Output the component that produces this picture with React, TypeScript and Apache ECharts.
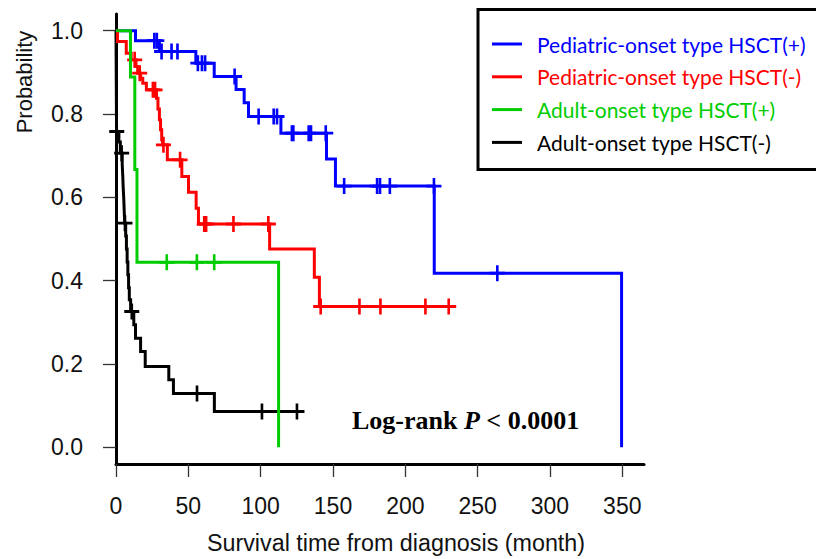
import React, { useEffect, useRef } from "react";
import * as echarts from "echarts";

// ---- Data ----
// Kaplan–Meier step points: [time in months, survival probability after that time]
const pedPlusCurve: [number, number][] = [
  [0, 1.0], [13.5, 0.976], [30, 0.95], [55.2, 0.922], [67.9, 0.89], [83, 0.859],
  [88.6, 0.827], [91.6, 0.794], [114, 0.754], [145.5, 0.692], [151.7, 0.627],
  [220, 0.418], [349.5, 0.0],
];
const pedPlusCensor = [26.5, 28.2, 31.5, 38.4, 42.5, 56.6, 59.4, 61.6, 82, 98.6, 109, 111.3,
  121.6, 122.6, 133.2, 134.8, 145, 157.7, 180.5, 182.5, 189.3, 219.8, 263.6];

const pedMinusCurve: [number, number][] = [
  [0, 1.0], [1, 0.974], [7.1, 0.946], [10.5, 0.93], [13.8, 0.914], [15, 0.898], [17, 0.886],
  [18.5, 0.874], [21, 0.858], [28, 0.838], [29, 0.812], [30, 0.786], [30.8, 0.762],
  [31.6, 0.738], [32.2, 0.726], [35.5, 0.69], [45.5, 0.65], [50.1, 0.612], [55.4, 0.574],
  [57, 0.536], [106.2, 0.476], [137.1, 0.408], [140.6, 0.338], [230, 0.338],
];
const pedMinusCensor = [12.9, 16.4, 25.5, 27, 32.8, 44.3, 61, 62.3, 81.2, 105.3, 141.5,
  168.3, 182.8, 213.9, 230];

const adultPlusCurve: [number, number][] = [
  [0, 1.0], [10, 0.889], [13, 0.667], [14.5, 0.444], [112.4, 0.0],
];
const adultPlusCensor = [35.1, 55.9, 67.9];

const adultMinusCurve: [number, number][] = [
  [0, 1.0], [0.05, 0.968], [0.1, 0.935], [0.15, 0.903], [0.2, 0.871], [0.25, 0.839],
  [0.3, 0.806], [0.35, 0.774], [0.4, 0.758], [2, 0.733], [3, 0.706], [4.3, 0.678],
  [4.7, 0.65], [5.0, 0.622], [5.4, 0.594], [5.7, 0.566], [6.0, 0.538], [6.7, 0.507],
  [7.2, 0.476], [7.7, 0.445], [8.2, 0.414], [8.7, 0.383], [9.2, 0.354], [10.1, 0.326],
  [12.3, 0.294], [13.5, 0.262], [17, 0.23], [20.2, 0.194], [36.5, 0.162], [39.7, 0.129],
  [68, 0.086], [125.1, 0.086],
];
const adultMinusCensor = [0.5, 3.9, 6.2, 10.9, 56, 100.9, 125.1];

const groupNames = [
  "Pediatric-onset type HSCT(+)",
  "Pediatric-onset type HSCT(-)",
  "Adult-onset type HSCT(+)",
  "Adult-onset type HSCT(-)",
];
const groupColors = ["#0000ff", "#ff0000", "#00cd00", "#000000"];

const xTicks = [0, 50, 100, 150, 200, 250, 300, 350];
const yTicks = [0, 0.2, 0.4, 0.6, 0.8, 1.0];

const xTitle = "Survival time from diagnosis (month)";
const yTitle = "Probability";

// ---- helpers ----
function survivalAt(curve: [number, number][], t: number): number {
  let s = curve[0][1];
  for (const [tt, p] of curve) {
    if (tt <= t) s = p;
    else break;
  }
  return s;
}

const PLUS =
  "path://M-1.4,-8H1.4V-1.4H8V1.4H1.4V8H-1.4V1.4H-8V-1.4H-1.4Z";

export default function App() {
  const ref = useRef<HTMLDivElement>(null);

  useEffect(() => {
    if (!ref.current) return;
    const chart = echarts.init(ref.current, undefined, { renderer: "svg" });

    const curves = [pedPlusCurve, pedMinusCurve, adultPlusCurve, adultMinusCurve];
    const censors = [pedPlusCensor, pedMinusCensor, adultPlusCensor, adultMinusCensor];
    const drawOrder = [3, 0, 1, 2];

    const series: any[] = [];
    drawOrder.forEach((i, k) => {
      series.push({
        type: "line",
        name: groupNames[i],
        data: curves[i],
        step: "end",
        symbol: "none",
        showSymbol: false,
        silent: true,
        z: 2 + k,
        itemStyle: { color: groupColors[i] },
        lineStyle: { color: groupColors[i], width: 3, join: "miter" },
      });
      series.push({
        type: "scatter",
        name: groupNames[i] + " censored",
        data: censors[i].map((t) => [t, survivalAt(curves[i], t)]),
        symbol: PLUS,
        symbolSize: [15, 16],
        silent: true,
        z: 2 + k,
        itemStyle: { color: groupColors[i], opacity: 1 },
      });
    });

    const tickStyle = { color: "#333", width: 1.3 };
    const labelFont = { fontFamily: "Liberation Sans", fontSize: 23, color: "#111" };

    chart.setOption({
      animation: false,
      backgroundColor: "#ffffff",
      grid: { left: 116, right: 172, top: 14, bottom: 95, containLabel: false },
      xAxis: {
        type: "value",
        min: 0,
        max: 365,
        splitLine: { show: false },
        axisLine: { show: true, onZero: false, lineStyle: { color: "#000", width: 3 } },
        axisTick: { show: true, length: 13, customValues: xTicks, lineStyle: tickStyle },
        axisLabel: { ...labelFont, margin: 30, customValues: xTicks, formatter: (v: number) => String(v) },
      },
      yAxis: {
        type: "value",
        min: -0.04,
        max: 1.04,
        splitLine: { show: false },
        axisLine: { show: true, onZero: false, lineStyle: { color: "#000", width: 3 } },
        axisTick: { show: true, length: 13, customValues: yTicks, lineStyle: tickStyle },
        axisLabel: { ...labelFont, margin: 33, customValues: yTicks, formatter: (v: number) => v.toFixed(1) },
      },
      legend: {
        orient: "vertical",
        left: 492,
        top: 32,
        padding: 0,
        itemWidth: 30,
        itemHeight: 3,
        itemGap: 8.8,
        icon: "rect",
        selectedMode: false,
        textStyle: { fontFamily: "Lato", fontSize: 21, lineHeight: 24, padding: [0, 0, 0, 10] },
        data: groupNames.map((n, i) => ({ name: n, textStyle: { color: groupColors[i] } })),
      },
      graphic: [
        {
          type: "rect",
          shape: { x: 478, y: 9.5, width: 360, height: 160 },
          style: { fill: "none", stroke: "#000", lineWidth: 3 },
          silent: true,
        },
        {
          type: "text",
          x: 396,
          y: 543,
          style: {
            text: xTitle,
            fontFamily: "Liberation Sans",
            fontSize: 23.3,
            fill: "#111",
            align: "center",
            verticalAlign: "middle",
          },
        },
        {
          type: "text",
          x: 24,
          y: 82,
          rotation: Math.PI / 2,
          style: {
            text: yTitle,
            fontFamily: "Liberation Sans",
            fontSize: 22,
            fill: "#111",
            align: "center",
            verticalAlign: "middle",
          },
        },
        {
          type: "text",
          x: 352,
          y: 420,
          style: {
            text: "{a|Log-rank }{b|P}{a| < 0.0001}",
            verticalAlign: "middle",
            rich: {
              a: { fontFamily: "Liberation Serif", fontWeight: "bold", fontSize: 26, fill: "#000" },
              b: { fontFamily: "Liberation Serif", fontWeight: "bold", fontStyle: "italic", fontSize: 26, fill: "#000" },
            },
          },
        },
      ],
      series,
    });

    return () => chart.dispose();
  }, []);

  return (
    <div
      ref={ref}
      style={{ position: "fixed", left: 0, top: 0, width: 816, height: 559, background: "#fff" }}
    />
  );
}
